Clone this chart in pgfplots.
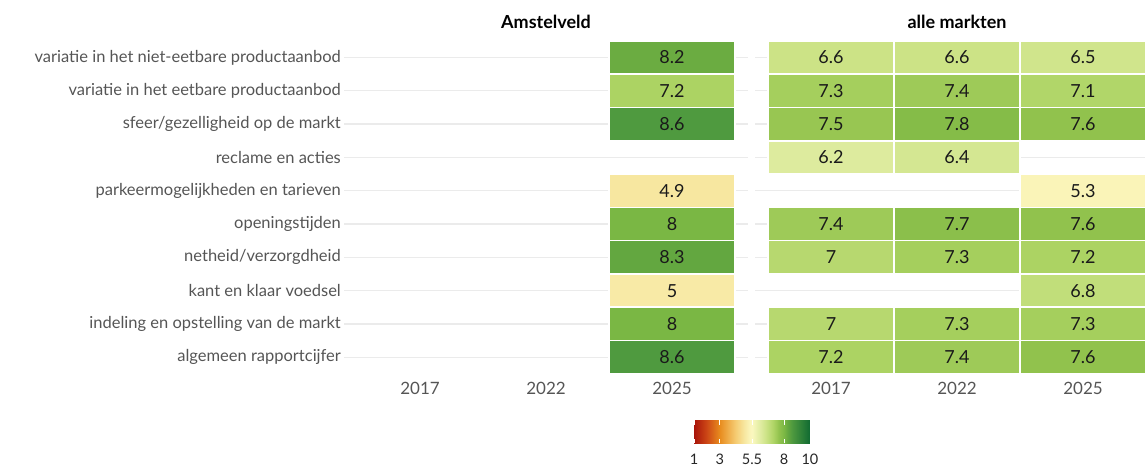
\documentclass[border=0pt]{standalone}
\usepackage{fontspec}
\setmainfont{Lato}
\usepackage{pgfplots}
\pgfplotsset{compat=1.18}
\usepackage{pgfplotstable}
\definecolor{lbl}{RGB}{85,85,85}
\definecolor{gridc}{RGB}{235,235,235}
\definecolor{valc}{RGB}{26,26,26}

% scores per market, x: 0=2017 1=2022 2=2025, y: row (9 = top)
\pgfplotstableread{
x y v
2 9 8.2
2 8 7.2
2 7 8.6
2 5 4.9
2 4 8
2 3 8.3
2 2 5
2 1 8
2 0 8.6
}\amst
\pgfplotstableread{
x y v
0 9 6.6
1 9 6.6
2 9 6.5
0 8 7.3
1 8 7.4
2 8 7.1
0 7 7.5
1 7 7.8
2 7 7.6
0 6 6.2
1 6 6.4
2 5 5.3
0 4 7.4
1 4 7.7
2 4 7.6
0 3 7
1 3 7.3
2 3 7.2
2 2 6.8
0 1 7
1 1 7.3
2 1 7.3
0 0 7.2
1 0 7.4
2 0 7.6
}\alle

\pgfdeclareplotmark{tile}{%
  \pgfpathrectangle{\pgfpoint{-63pt}{-16.65pt}}{\pgfpoint{126pt}{33.3pt}}%
  \pgfusepathqfillstroke}

\pgfplotsset{
  /pgf/number format/assume math mode=true,
  colormap={rdylgn}{
    rgb255(10)=(168,20,10) rgb255(20)=(205,72,22) rgb255(30)=(232,140,30)
    rgb255(42)=(245,202,112) rgb255(49)=(247,231,160) rgb255(53)=(250,244,184)
    rgb255(55)=(251,248,192) rgb255(62)=(221,235,158) rgb255(66)=(204,227,134)
    rgb255(72)=(172,211,99) rgb255(76)=(145,194,77) rgb255(80)=(122,183,68)
    rgb255(83)=(99,167,64) rgb255(86)=(79,154,63) rgb255(100)=(16,106,50)
  },
  tileaxis/.style={
    scale only axis, x=126pt, y=33.3pt,
    xmin=-0.6, ymin=-0.6, ymax=9.6,
    separate axis lines, axis line style={draw=none},
    major tick length=0pt,
    xtick={0,1,2}, xticklabels={2017,2022,2025},
    ytick={0,...,9},
    ymajorgrids, grid style={gridc, line width=1.3pt},
    tick label style={text=lbl},
    xticklabel style={font=\fontsize{17}{19}\selectfont, anchor=center, yshift=-11pt},
    yticklabel style={font=\fontsize{16.5}{19}\selectfont},
    point meta min=1, point meta max=10, colormap name=rdylgn,
  },
  tiles/.style={scatter, only marks, mark=tile, point meta=explicit,
    scatter/@pre marker code/.code={%
      \pgfscope
      \pgfplotscolormapdefinemappedcolor{\pgfplotspointmetatransformed}%
      \pgfsetfillcolor{mapped color}\pgfsetstrokecolor{white}%
      \pgfsetlinewidth{1.6pt}},
    scatter/@post marker code/.code={\endpgfscope}},
  vals/.style={draw=none, mark=none, point meta=explicit,
    nodes near coords, nodes near coords align=center,
    every node near coord/.append style={font=\fontsize{18}{20}\selectfont, text=valc}},
}

\begin{document}
\begin{tikzpicture}
\path[use as bounding box] (0,0) rectangle (1145pt,467pt);

\begin{axis}[tileaxis, at={(344.4pt,89.8pt)}, anchor=south west,
  xmax=2.6,
  yticklabels={algemeen rapportcijfer, indeling en opstelling van de markt,
    kant en klaar voedsel, netheid/verzorgdheid, openingstijden,
    parkeermogelijkheden en tarieven, reclame en acties,
    sfeer/gezelligheid op de markt, variatie in het eetbare productaanbod,
    variatie in het niet-eetbare productaanbod},
  colorbar horizontal, colorbar/width=23pt,
  colorbar style={
    at={(0.867,-0.1946)}, anchor=south west,
    scale only axis, width=116pt,
    separate axis lines, axis line style={draw=none},
    xtick={1,3,5.5,8,10}, xtick pos=both, tick align=inside,
    major tick length=4.6pt,
    xtick style={draw=white, line width=0.8pt},
    xticklabel style={font=\fontsize{14.5}{16}\selectfont, text=black!85,
      anchor=center, yshift=-16pt},
  }]
\addplot[tiles] table[x=x, y=y, meta=v] {\amst};
\addplot[vals] table[x=x, y=y, meta=v] {\amst};
\end{axis}

\begin{axis}[tileaxis, at={(755.4pt,89.8pt)}, anchor=south west,
  xmax=2.5, yticklabels={}]
\addplot[tiles] table[x=x, y=y, meta=v] {\alle};
\addplot[vals] table[x=x, y=y, meta=v] {\alle};
\end{axis}

\node[font=\bfseries\fontsize{18}{20}\selectfont] at (546pt,445pt) {Amstelveld};
\node[font=\bfseries\fontsize{18}{20}\selectfont] at (957pt,445pt) {alle markten};
\end{tikzpicture}
\end{document}
